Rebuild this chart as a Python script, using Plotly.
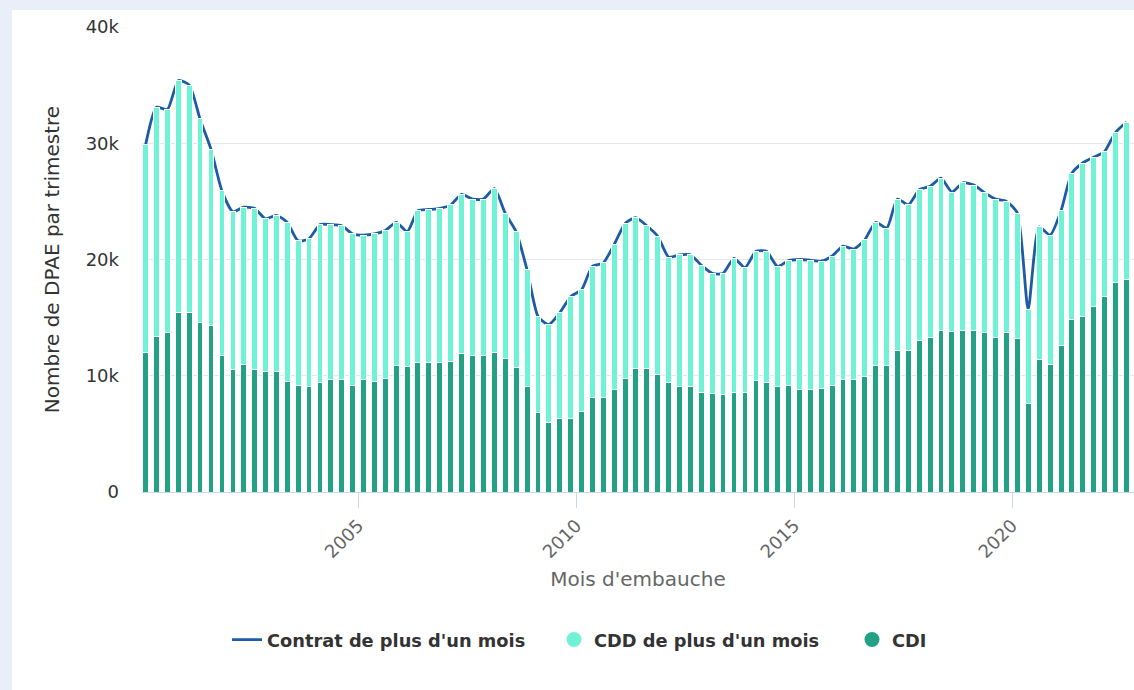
import plotly.graph_objects as go

# Mois d'embauche : trimestres 2000 T1 -> 2022 T3 (mois central du trimestre)
mois = [f"{a}-{m:02d}-15" for a in range(2000, 2023) for m in (2, 5, 8, 11)][:91]

contrat_plus_1_mois = [
    29900, 33100, 32900, 35400, 35000, 32100, 29500, 25900, 24100, 24500, 24400, 23500, 23800,
    23200, 21600, 21800, 23000, 23000, 22900, 22200, 22100, 22200, 22500, 23200, 22400, 24200,
    24300, 24400, 24700, 25600, 25200, 25200, 26100, 24000, 22400, 19100, 15100, 14400, 15400,
    16800, 17400, 19400, 19700, 21300, 23100, 23600, 22900, 22000, 20200, 20400, 20400, 19500,
    18800, 18800, 20100, 19300, 20700, 20700, 19400, 19900, 20000, 19950, 19850, 20300, 21150,
    20900, 21700, 23200, 22700, 25200, 24700, 26000, 26300, 27000, 25800, 26600, 26400, 25750,
    25200, 25000, 24000, 15700, 22800, 22100, 24200, 27400, 28300, 28800, 29300, 30900, 31800]

cdi = [
    12000, 13400, 13700, 15400, 15400, 14600, 14300, 11700, 10500, 11000, 10500, 10400, 10400,
    9500, 9200, 9100, 9400, 9700, 9700, 9200, 9700, 9500, 9800, 10900, 10800, 11100,
    11100, 11100, 11200, 11900, 11700, 11700, 12000, 11500, 10700, 9100, 6800, 6000, 6300,
    6300, 6900, 8100, 8100, 8800, 9800, 10600, 10600, 10100, 9400, 9100, 9100, 8600,
    8500, 8400, 8600, 8600, 9600, 9400, 9100, 9200, 8800, 8800, 8900, 9200, 9700,
    9650, 9900, 10900, 10900, 12200, 12200, 13000, 13300, 13900, 13800, 13900, 13900, 13700,
    13300, 13700, 13200, 7600, 11400, 11000, 12600, 14800, 15100, 16000, 16800, 18000, 18300]

cdd = [
    17900, 19700, 19200, 20000, 19600, 17500, 15200, 14200, 13600, 13500, 13900, 13100, 13400,
    13700, 12400, 12700, 13600, 13300, 13200, 13000, 12400, 12700, 12700, 12300, 11600, 13100,
    13200, 13300, 13500, 13700, 13500, 13500, 14100, 12500, 11700, 10000, 8300, 8400, 9100,
    10500, 10500, 11300, 11600, 12500, 13300, 13000, 12300, 11900, 10800, 11300, 11300, 10900,
    10300, 10400, 11500, 10700, 11100, 11300, 10300, 10700, 11200, 11150, 10950, 11100, 11450,
    11250, 11800, 12300, 11800, 13000, 12500, 13000, 13000, 13100, 12000, 12700, 12500, 12050,
    11900, 11300, 10800, 8100, 11400, 11100, 11600, 12600, 13200, 12800, 12500, 12900, 13500]

y_ticks = [0, 10000, 20000, 30000, 40000]
y_tick_labels = ["0", "10k", "20k", "30k", "40k"]

C_LINE = "#1d5ba6"
C_CDD = "#70f2d6"
C_CDI = "#23a184"
FONT = "DejaVu Sans"

W, H = 1134, 690
L, R, T, B = 142, 0, 27, 198
PW, PH = W - L - R, H - T - B

def px_x(p):
    return (p - L) / PW

def px_y(p):
    return (H - B - p) / PH

fig = go.Figure()

# Ligne (dessinée derrière les barres)
fig.add_trace(go.Scatter(
    x=mois, y=contrat_plus_1_mois, mode="lines", name="Contrat de plus d'un mois",
    line=dict(color=C_LINE, width=2.8, shape="spline", smoothing=0.6),
    xaxis="x", yaxis="y", legend="legend"))

# Barres empilées (axe superposé, donc au-dessus de la ligne)
fig.add_trace(go.Bar(
    x=mois, y=cdi, name="CDI", marker=dict(color=C_CDI, line=dict(color="white", width=1)),
    xaxis="x", yaxis="y2", showlegend=False))
fig.add_trace(go.Bar(
    x=mois, y=cdd, name="CDD de plus d'un mois",
    marker=dict(color=C_CDD, line=dict(color="white", width=1)),
    xaxis="x", yaxis="y2", showlegend=False))

# Entrées de légende (cercles)
fig.add_trace(go.Scatter(
    x=[None], y=[None], mode="markers", name="CDD de plus d'un mois",
    marker=dict(color=C_CDD, size=15, symbol="circle"), legend="legend2"))
fig.add_trace(go.Scatter(
    x=[None], y=[None], mode="markers", name="CDI",
    marker=dict(color=C_CDI, size=15, symbol="circle"), legend="legend3"))

legend_common = dict(orientation="h", yanchor="middle", y=px_y(640), xanchor="left",
                     bgcolor="rgba(0,0,0,0)", borderwidth=0,
                     font=dict(family=FONT, size=17.8, color="#333333", weight="bold"))

fig.update_layout(
    width=W, height=H,
    margin=dict(l=L, r=R, t=T, b=B, autoexpand=False),
    paper_bgcolor="#e9eef9",
    plot_bgcolor="white",
    font=dict(family=FONT, size=18, color="#333333"),
    barmode="stack",
    bargap=0.45,
    hovermode=False,
    legend=dict(x=px_x(227), **legend_common),
    legend2=dict(x=px_x(554), **legend_common),
    legend3=dict(x=px_x(852), **legend_common),
    xaxis=dict(
        type="date",
        range=["2000-01-15", "2022-10-19"],
        tick0="2005-01-01", dtick="M60", tickformat="%Y",
        tickangle=-45,
        ticks="outside", ticklen=15, tickcolor="#ccd6eb", tickwidth=1,
        showline=True, linecolor="#ccd6eb", linewidth=1,
        showgrid=False, zeroline=False,
        tickfont=dict(family=FONT, size=18, color="#666666"),
        title=dict(text="Mois d'embauche", standoff=10,
                   font=dict(family=FONT, size=20, color="#666666")),
    ),
    yaxis=dict(
        range=[0, 40000],
        tickvals=y_ticks, ticktext=y_tick_labels,
        showgrid=True, gridcolor="#e6e6e6", gridwidth=1,
        zeroline=False, showline=False, ticks="",
        ticklabelstandoff=22,
        tickfont=dict(family=FONT, size=18, color="#333333"),
        title=dict(text="Nombre de DPAE par trimestre", standoff=20,
                   font=dict(family=FONT, size=20, color="#333333")),
    ),
    yaxis2=dict(range=[0, 40000], overlaying="y", visible=False),
    shapes=[dict(type="rect", xref="paper", yref="paper", layer="below",
                 x0=px_x(12), x1=px_x(W + 20), y0=px_y(H + 20), y1=px_y(10),
                 fillcolor="white", line=dict(width=0))],
)

fig.write_html("out.html",
               config={"displayModeBar": False, "staticPlot": True},
               post_script="document.body.style.margin='0';document.body.style.padding='0';"
                           "document.body.style.overflow='hidden';")
